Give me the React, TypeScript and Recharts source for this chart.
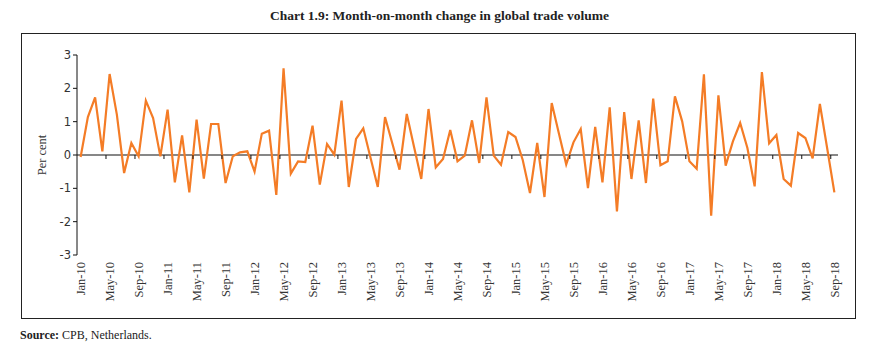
import React from "react";
import { LineChart, Line, XAxis, YAxis, ReferenceLine } from "recharts";

const MONTHS = ["Jan", "Feb", "Mar", "Apr", "May", "Jun", "Jul", "Aug", "Sep", "Oct", "Nov", "Dec"];
const YEARS = ["10", "11", "12", "13", "14", "15", "16", "17", "18"];
const CATEGORIES: string[] = YEARS.flatMap((y) => MONTHS.map((m) => `${m}-${y}`)).slice(0, 105);

const VALUES: number[] = [
  // 2010
  -0.06, 1.14, 1.73, 0.11, 2.43, 1.21, -0.54, 0.36, -0.04, 1.63, 1.11, -0.04,
  // 2011
  1.36, -0.82, 0.59, -1.12, 1.06, -0.71, 0.93, 0.93, -0.84, -0.04, 0.08, 0.11,
  // 2012
  -0.5, 0.64, 0.73, -1.2, 2.6, -0.56, -0.19, -0.21, 0.88, -0.89, 0.33, 0.01,
  // 2013
  1.63, -0.96, 0.48, 0.8, -0.08, -0.96, 1.14, 0.35, -0.44, 1.23, 0.25, -0.72,
  // 2014
  1.38, -0.37, -0.12, 0.75, -0.19, -0.02, 1.04, -0.24, 1.73, -0.02, -0.29, 0.69,
  // 2015
  0.54, -0.15, -1.14, 0.36, -1.26, 1.56, 0.64, -0.28, 0.38, 0.78, -0.99, 0.84,
  // 2016
  -0.82, 1.43, -1.69, 1.29, -0.72, 1.04, -0.84, 1.69, -0.31, -0.19, 1.76, 1.01,
  // 2017
  -0.19, -0.41, 2.42, -1.82, 1.79, -0.32, 0.41, 0.96, 0.21, -0.94, 2.49, 0.35,
  // 2018
  0.6, -0.72, -0.92, 0.66, 0.51, -0.1, 1.53, 0.21, -1.12,
];

const Y_TICKS = [-3, -2, -1, 0, 1, 2, 3];

const TITLE = "Chart 1.9: Month-on-month change in global trade volume";
const Y_LABEL = "Per cent";

const data = CATEGORIES.map((m, i) => ({ m, v: VALUES[i] }));

// layout
const W = 879;
const H = 353;
const PLOT_LEFT = 77;
const PLOT_RIGHT = 838;
const PLOT_TOP = 55;
const PLOT_BOTTOM = 255;
const X_AXIS_H = 50;
const HALF_BAND = (PLOT_RIGHT - PLOT_LEFT) / CATEGORIES.length / 2;
const ZERO_Y = (PLOT_TOP + PLOT_BOTTOM) / 2;

const XTick = (props: any) => {
  const { x, index } = props;
  const payload = props.payload;
  const bx = x - HALF_BAND;
  return (
    <g>
      {index !== 0 ? (
        <line x1={bx} x2={bx} y1={ZERO_Y} y2={ZERO_Y + 4} stroke="#111" strokeWidth={1} />
      ) : null}
      <text
        x={x}
        y={PLOT_BOTTOM + 7}
        transform={`rotate(-90, ${x}, ${PLOT_BOTTOM + 7})`}
        textAnchor="end"
        dy="0.35em"
        fontFamily="'Liberation Serif', serif"
        fontSize={12.5}
        fill="#333"
      >
        {payload.value}
      </text>
    </g>
  );
};

export default function App() {
  return (
    <div
      style={{
        position: "absolute",
        left: 0,
        top: 0,
        width: W,
        height: H,
        background: "#fff",
        overflow: "hidden",
      }}
    >
      <div
        style={{
          position: "absolute",
          left: 0,
          top: 8,
          width: W,
          textAlign: "center",
          fontFamily: "'Liberation Serif', serif",
          fontWeight: "bold",
          fontSize: 13.5,
          color: "#222",
        }}
      >
        {TITLE}
      </div>
      <div
        style={{
          position: "absolute",
          left: 21,
          top: 33,
          width: 835,
          height: 286,
          border: "1.3px solid #222",
          boxSizing: "border-box",
        }}
      />
      <div
        style={{
          position: "absolute",
          left: 20,
          top: 328,
          fontFamily: "'Liberation Serif', serif",
          fontSize: 12,
          color: "#222",
        }}
      >
        <b>Source:</b> CPB, Netherlands.
      </div>
      <div style={{ position: "absolute", left: 0, top: 0 }}>
        <LineChart
          width={W}
          height={H}
          data={data}
          margin={{
            top: PLOT_TOP,
            right: W - PLOT_RIGHT,
            bottom: H - PLOT_BOTTOM - X_AXIS_H,
            left: 0,
          }}
        >
          <XAxis
            dataKey="m"
            scale="point"
            padding={{ left: HALF_BAND, right: HALF_BAND }}
            interval={3}
            axisLine={false}
            tickLine={false}
            height={X_AXIS_H}
            tick={<XTick />}
          />
          <YAxis
            width={PLOT_LEFT}
            domain={[-3, 3]}
            ticks={Y_TICKS}
            interval={0}
            allowDataOverflow
            axisLine={{ stroke: "#111", strokeWidth: 1 }}
            tickLine={{ stroke: "#111", strokeWidth: 1 }}
            tickSize={4}
            tickMargin={2}
            tick={{ fontFamily: "'DejaVu Sans', sans-serif", fontSize: 11.5, fill: "#333" }}
            label={{
              value: Y_LABEL,
              angle: -90,
              position: "insideLeft",
              offset: 42,
              style: { fontFamily: "'Liberation Serif', serif", fontSize: 12.5, fill: "#333", textAnchor: "middle" },
            }}
          />
          <ReferenceLine y={0} stroke="#111" strokeWidth={1.2} />
          <Line
            type="linear"
            dataKey="v"
            stroke="#F47C26"
            strokeWidth={2.2}
            dot={false}
            isAnimationActive={false}
          />
        </LineChart>
      </div>
    </div>
  );
}
